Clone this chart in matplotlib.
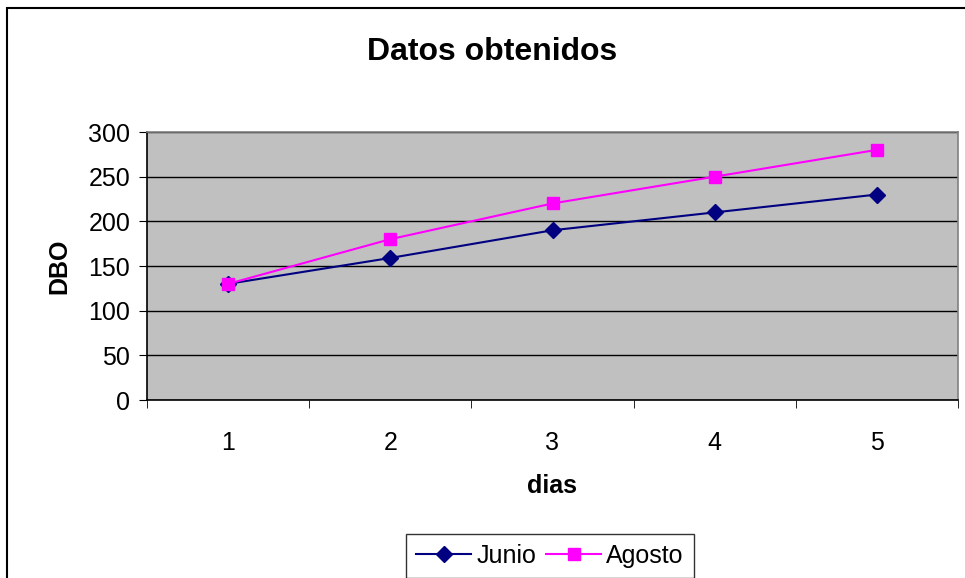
import numpy as np
import matplotlib
matplotlib.use('Agg')
import matplotlib.pyplot as plt
from matplotlib.patches import Rectangle

# data
dias = [1, 2, 3, 4, 5]
junio = [130, 159, 190, 210, 230]
agosto = [130, 180, 220, 250, 280]

plt.rcParams['font.family'] = ['Liberation Sans', 'DejaVu Sans']

fig = plt.figure(figsize=(9.65, 5.78), dpi=100)
# outer chart border (runs off the right and bottom edges)
fig.patches.append(Rectangle((7/965, -0.05), 1.2, 1 - 8/578 + 0.05, transform=fig.transFigure,
                             fill=False, edgecolor='black', linewidth=1.5))

ax = fig.add_axes([147/965, 1 - 400/578, 811/965, 268/578])
ax.set_facecolor('#C0C0C0')
for s in ax.spines.values():
    s.set_color('#808080')
    s.set_linewidth(1.2)
ax.spines['left'].set_color('black')
ax.spines['bottom'].set_color('black')

ax.plot(dias, junio, color='#000080', marker='D', markersize=8, linewidth=1.5, label='Junio')
ax.plot(dias, agosto, color='#FF00FF', marker='s', markersize=8, linewidth=1.5, label='Agosto')

ax.set_xlim(0.5, 5.5)
ax.set_ylim(0, 300)
ax.set_yticks(np.arange(0, 301, 50))
ax.yaxis.grid(True, color='black', linewidth=1)
ax.set_axisbelow(True)

ax.set_xticks(dias)
ax.set_xticks(np.arange(0.5, 5.6, 1), minor=True)
ax.tick_params(axis='x', which='major', length=0, pad=22, labelsize=18)
ax.tick_params(axis='x', which='minor', length=6, color='black')
ax.tick_params(axis='y', length=6, labelsize=18, pad=6)

ax.set_xlabel('dias', fontsize=18, fontweight='bold', labelpad=14)
ax.set_ylabel('DBO', fontsize=18, fontweight='bold', labelpad=12)
fig.text(492/965, 1 - 52/578, 'Datos obtenidos', ha='center', va='center',
         fontsize=23, fontweight='bold')

leg = fig.legend(loc='center', bbox_to_anchor=(550/965, 1 - 556/578), ncol=2,
                 fontsize=18, frameon=True, fancybox=False, handlelength=2.2,
                 columnspacing=0.4, handletextpad=0.2, borderpad=0.4)
leg.get_frame().set_edgecolor('black')
leg.get_frame().set_linewidth(1)

fig.savefig('out.png', dpi=100)
